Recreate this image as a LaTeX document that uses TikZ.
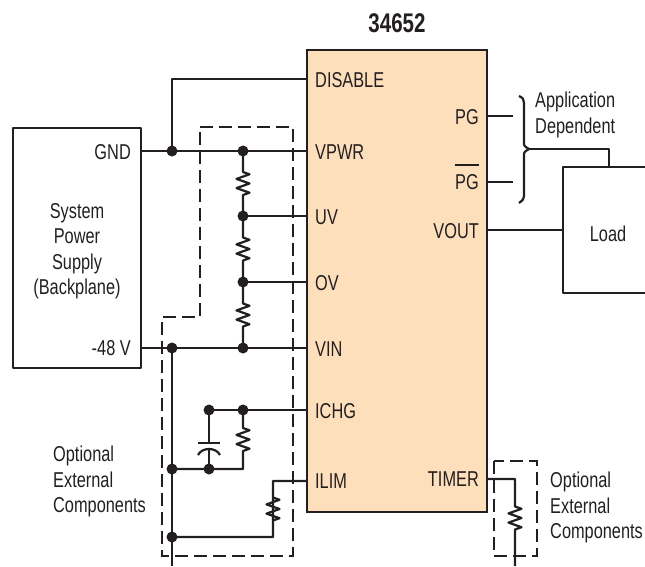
\documentclass[tikz,border=0pt]{standalone}
\usepackage{fontspec}
\setmainfont{Liberation Sans}[FakeStretch=0.76]
\usetikzlibrary{calc}
\definecolor{ink}{RGB}{35,31,32}
\definecolor{chipfill}{RGB}{254,223,188}
\tikzset{
  wire/.style={draw=ink, line width=2.2pt, line join=round},
  dashbox/.style={draw=ink, line width=2.2pt, dash pattern=on 13pt off 6pt},
  chip/.style={draw=ink, fill=chipfill, line width=2.6pt, minimum width=180pt, minimum height=462pt, inner sep=0pt},
  lbl/.style={text=ink, inner sep=0pt, font=\fontsize{21.5}{25.5}\selectfont},
  dot/.style={fill=ink},
  resistor/.style={to path={
    -- ([yshift=11.5pt]$(\tikztostart)!.5!(\tikztotarget)$)
    -- ++(6.5pt,-2.3pt) -- ++(-13pt,-4.6pt) -- ++(13pt,-4.6pt) -- ++(-13pt,-4.6pt) -- ++(13pt,-4.6pt)
    -- ([yshift=-11.5pt]$(\tikztostart)!.5!(\tikztotarget)$) -- (\tikztotarget)}}
}
\begin{document}
\begin{tikzpicture}[x=1pt,y=-1pt]
\useasboundingbox (0,0) rectangle (645,566);

% chip
\node[chip] (ic) at (397,281) {};
\node[lbl, anchor=base, font=\fontsize{27}{30}\selectfont\bfseries] (title) at (397,32) {34652};

% pin coordinates
\coordinate (pDIS) at (307,79);
\coordinate (pVPWR) at (307,151);
\coordinate (pUV) at (307,216);
\coordinate (pOV) at (307,282);
\coordinate (pVIN) at (307,348);
\coordinate (pICHG) at (307,410);
\coordinate (pILIM) at (307,481);
\coordinate (pTIM) at (487,479);
\coordinate (pPG) at (487,116);
\coordinate (pPGb) at (487,182);
\coordinate (pVOUT) at (487,230);

% pin labels
\node[lbl, anchor=base west] (tDIS) at (315,87) {DISABLE};
\node[lbl, anchor=base west] (tVPWR) at (315,159) {VPWR};
\node[lbl, anchor=base west] (tUV) at (315,224) {UV};
\node[lbl, anchor=base west] (tOV) at (315,290) {OV};
\node[lbl, anchor=base west] (tVIN) at (315,356) {VIN};
\node[lbl, anchor=base west] (tICHG) at (315,418) {ICHG};
\node[lbl, anchor=base west] (tILIM) at (315,488) {ILIM};
\node[lbl, anchor=base east] (tTIM) at (479,486) {TIMER};
\node[lbl, anchor=base east] (tPG) at (479,124) {PG};
\node[lbl, anchor=base east] (tPGb) at (479,189) {PG};
\draw[draw=ink, line width=1.6pt] (tPGb.west |- 0,165) -- (tPGb.east |- 0,165);
\node[lbl, anchor=base east] (tVOUT) at (479,238) {VOUT};

% power supply box
\draw[wire, line width=2.6pt] (13,128) rectangle (141,368);
\node[lbl, anchor=north, align=center] (sps) at (77,203) {System\\Power\\Supply\\(Backplane)};
\node[lbl, anchor=base east] (tGND) at (131,159) {GND};
\node[lbl, anchor=base east] (t48) at (131,355) {-48 V};
\coordinate (gnd) at (141,151);
\coordinate (m48) at (141,348);

% junctions
\coordinate (j1) at (172,151);
\coordinate (j2) at (243,151);
\coordinate (j3) at (243,216);
\coordinate (j4) at (243,282);
\coordinate (j5) at (243,348);
\coordinate (j6) at (172,348);
\coordinate (j7) at (209,410);
\coordinate (j8) at (243,410);
\coordinate (j9) at (209,469);
\coordinate (j10) at (172,469);
\coordinate (j11) at (172,537);
\coordinate (k1) at (243,469);
\coordinate (k2) at (273,537);
\coordinate (k3) at (273,481);
\coordinate (bot1) at (172,566);
\coordinate (c1) at (209,443);
\coordinate (c2) at (209,448);

% wires
\draw[wire] (gnd) -- (pVPWR);
\draw[wire] (j1) |- (pDIS);
\draw[wire] (j2) to[resistor] (j3);
\draw[wire] (j3) to[resistor] (j4);
\draw[wire] (j4) to[resistor] (j5);
\draw[wire] (j3) -- (pUV);
\draw[wire] (j4) -- (pOV);
\draw[wire] (m48) -- (pVIN);
\draw[wire] (j6) -- (bot1);
\draw[wire] (j7) -- (pICHG);
\draw[wire] (j8) to[resistor] (k1) -- (j10);
\draw[wire] (j7) -- (c1);
\draw[wire] (c2) -- (j9);
\draw[wire] ([xshift=-11pt]c1) -- ([xshift=11pt]c1);
\draw[wire] ([xshift=-11pt,yshift=-7pt]c2) .. controls ([xshift=-7pt,yshift=1pt]c2) and ([xshift=7pt,yshift=1pt]c2) .. ([xshift=11pt,yshift=-7pt]c2);
\draw[wire] (j11) -- (k2) to[resistor] (k3) -- (pILIM);

\foreach \j in {j1,j2,j3,j4,j5,j6,j7,j8,j9,j10,j11}
  \fill[dot] (\j) circle (5.5pt);

% dashed box left
\draw[dashbox] (200,127) -- (293,127) -- (293,556) -- (162,556) -- (162,317) -- (200,317) -- cycle;
\node[lbl, anchor=north west, align=left] (opt1) at (53,446) {Optional\\External\\Components};

% timer
\coordinate (t1) at (515,479);
\coordinate (t2) at (515,557);
\coordinate (t3) at (515,566);
\draw[wire] (pTIM) -- (t1) to[resistor] (t2) -- (t3);
\draw[dashbox] (494,461) rectangle (537,556);
\node[lbl, anchor=north west, align=left] (opt2) at (550,472) {Optional\\External\\Components};

% PG / brace
\coordinate (b1) at (513,116);
\coordinate (b2) at (513,182);
\draw[wire] (pPG) -- (b1);
\draw[wire] (pPGb) -- (b2);
\draw[wire] (519,96) .. controls (523,98) .. (524,103) -- (524,142) .. controls (524,146) .. (529,149) .. controls (524,152) .. (524,156) -- (524,196) .. controls (523,200) .. (519,203);
\coordinate (cusp) at (529,149);
\node[lbl, anchor=north west, align=left] (app) at (535,92) {Application\\Dependent};

% load
\draw[wire, line width=2.6pt] (647,167) -- (563,167) -- (563,293) -- (647,293);
\node[lbl, anchor=base] (load) at (608,241) {Load};
\coordinate (ltop) at (609,167);
\coordinate (lleft) at (563,230);
\draw[wire] (cusp) -| (ltop);
\draw[wire] (pVOUT) -- (lleft);
\end{tikzpicture}
\end{document}
